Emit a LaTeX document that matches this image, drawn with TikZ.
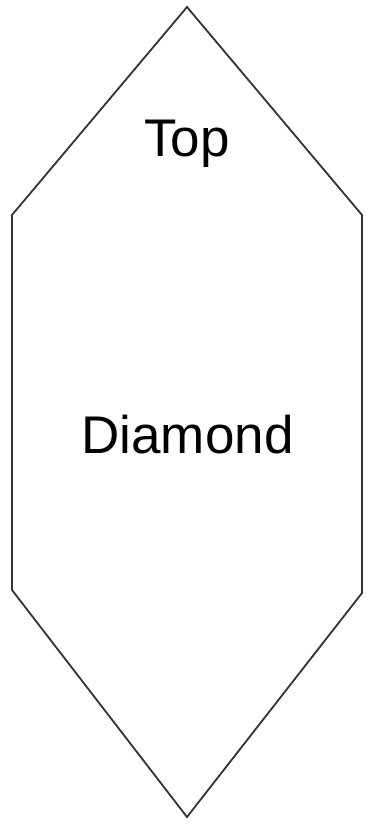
\documentclass[tikz,border=0pt]{standalone}
\usepackage{fontspec}
\setmainfont{Liberation Sans}
\begin{document}
\begin{tikzpicture}[x=1pt,y=-1pt,
  outline/.style={draw=black!80, line width=1.8pt, line join=miter},
  label/.style={font=\fontsize{53}{62}\selectfont, anchor=base, inner sep=0pt}]
\useasboundingbox (0,0) rectangle (368,825);
\coordinate (t) at (187,7);
\coordinate (ur) at (362,215);
\coordinate (lr) at (362,593);
\coordinate (b) at (187,817);
\coordinate (ll) at (12,590);
\coordinate (ul) at (12,215);
\draw[outline] (t) -- (ur) -- (lr) -- (b) -- (ll) -- (ul) -- cycle;
\node[label] (top) at (187,156) {Top};
\node[label] (dia) at (187.5,453) {Diamond};
\end{tikzpicture}
\end{document}
